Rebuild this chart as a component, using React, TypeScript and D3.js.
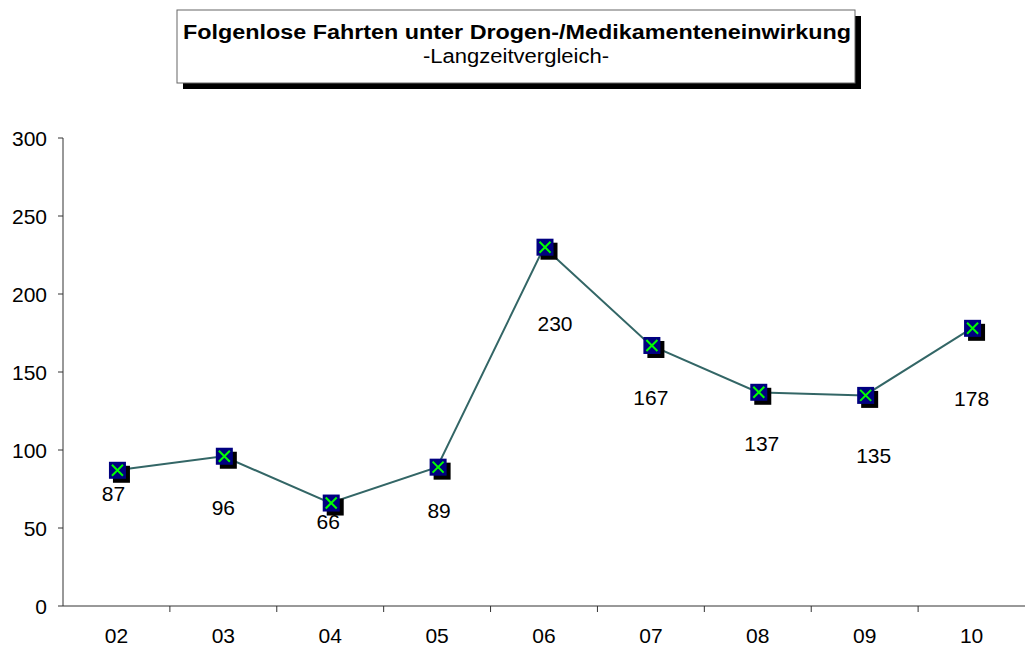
import React from "react";
import * as d3 from "d3";

const categories = ["02", "03", "04", "05", "06", "07", "08", "09", "10"];
const values = [87, 96, 66, 89, 230, 167, 137, 135, 178];
const yTicks = [0, 50, 100, 150, 200, 250, 300];
const titleMain = "Folgenlose Fahrten unter Drogen-/Medikamenteneinwirkung";
const titleSub = "-Langzeitvergleich-";
// label placement (pixel offsets from the point)
const labelDx = [-3, 0, -2, 2, 11, 0, 4, 9, 0];
const labelDy = [31, 59, 26, 51, 84, 60, 59, 68, 78];

export default function App() {
  const W = 1025, H = 649;
  const left = 63, right = 1025, top = 138, bottom = 606;
  const x = d3.scaleBand().domain(categories).range([left, right]).paddingInner(0).paddingOuter(0);
  const y = d3.scaleLinear().domain([0, 300]).range([bottom, top]);
  const cx = (c: string) => (x(c) as number) + x.bandwidth() / 2;
  const line = d3.line<number>().x((_, i) => cx(categories[i])).y((v) => y(v));
  const font = "'Liberation Sans', Arial, sans-serif";
  const ms = 17;
  return (
    <svg width={W} height={H} style={{ position: "absolute", left: 0, top: 0, background: "#fff" }} fontFamily={font}>
      <rect x={0} y={0} width={W} height={H} fill="#fff" />
      {/* title box */}
      <rect x={183} y={16} width={678} height={73} fill="#000" />
      <rect x={177} y={10} width={678} height={73} fill="#fff" stroke="#666" strokeWidth={1} />
      <text x={517} y={39} textAnchor="middle" fontSize={20} fontWeight="bold" textLength={668} lengthAdjust="spacingAndGlyphs">{titleMain}</text>
      <text x={516} y={63} textAnchor="middle" fontSize={20} textLength={186} lengthAdjust="spacingAndGlyphs">{titleSub}</text>
      {/* axes */}
      <line x1={left} x2={left} y1={top} y2={bottom} stroke="#333" strokeWidth={1} />
      <line x1={left} x2={right} y1={bottom} y2={bottom} stroke="#333" strokeWidth={1} />
      {yTicks.map((t) => (
        <g key={t}>
          <line x1={left - 5} x2={left} y1={y(t)} y2={y(t)} stroke="#333" />
          <text x={47} y={y(t)} dy="0.36em" textAnchor="end" fontSize={21}>{t}</text>
        </g>
      ))}
      {categories.map((c, i) => (
        <g key={c}>
          {i > 0 && <line x1={x(c) as number} x2={x(c) as number} y1={bottom} y2={bottom + 6} stroke="#333" />}
          <text x={cx(c)} y={643} textAnchor="middle" fontSize={21}>{c}</text>
        </g>
      ))}
      {/* line */}
      <path d={line(values) || ""} fill="none" stroke="#336666" strokeWidth={2} />
      {/* markers */}
      {values.map((v, i) => {
        const px = cx(categories[i]) + 1, py = y(v);
        const h = ms / 2, p = 3;
        return (
          <g key={i}>
            <rect x={px - h + 4} y={py - h + 4} width={ms} height={ms} fill="#000" />
            <rect x={px - h} y={py - h} width={ms} height={ms} fill="#000080" />
            <line x1={px - h + p} y1={py - h + p} x2={px + h - p} y2={py + h - p} stroke="#00ff00" strokeWidth={2} />
            <line x1={px - h + p} y1={py + h - p} x2={px + h - p} y2={py - h + p} stroke="#00ff00" strokeWidth={2} />
          </g>
        );
      })}
      {/* data labels */}
      {values.map((v, i) => (
        <text key={i} x={cx(categories[i]) + labelDx[i]} y={y(v) + labelDy[i]} textAnchor="middle" fontSize={21}>{v}</text>
      ))}
    </svg>
  );
}
